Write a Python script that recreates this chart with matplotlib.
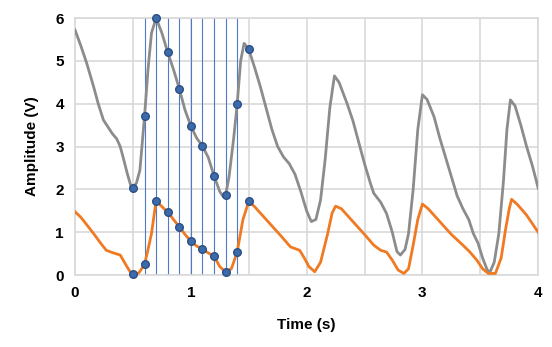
import matplotlib
matplotlib.use("Agg")
import matplotlib.pyplot as plt
import numpy as np

plt.rcParams['font.family'] = ['Liberation Sans', 'DejaVu Sans']

# ================= DATA =================
gray_t = [0.00, 0.05, 0.10, 0.16, 0.20, 0.245, 0.32, 0.36, 0.39, 0.42, 0.45, 0.48,
          0.50, 0.53, 0.56, 0.60, 0.63, 0.66, 0.70, 0.75, 0.80, 0.85, 0.90, 0.95,
          1.00, 1.05, 1.10, 1.15, 1.20, 1.25, 1.28, 1.30, 1.33, 1.37, 1.40, 1.43,
          1.46, 1.50, 1.55, 1.60, 1.65, 1.70, 1.75, 1.80, 1.85, 1.90, 1.95, 2.00,
          2.04, 2.08, 2.12, 2.16, 2.20, 2.24, 2.28, 2.35, 2.40, 2.45, 2.50, 2.55,
          2.58, 2.64, 2.69, 2.74, 2.78, 2.81, 2.85, 2.88, 2.92, 2.96, 3.00, 3.04,
          3.10, 3.15, 3.20, 3.25, 3.30, 3.35, 3.40, 3.44, 3.48, 3.52, 3.56, 3.585,
          3.62, 3.66, 3.70, 3.73, 3.76, 3.80, 3.85, 3.90, 3.95, 4.00]
gray_v = [5.72, 5.35, 4.95, 4.40, 4.00, 3.62, 3.31, 3.18, 3.00, 2.70, 2.38, 2.10,
          2.04, 2.15, 2.45, 3.71, 4.80, 5.65, 6.00, 5.65, 5.20, 4.80, 4.35, 3.85,
          3.48, 3.20, 3.01, 2.75, 2.32, 1.95, 1.83, 1.86, 2.30, 3.20, 3.99, 5.00,
          5.41, 5.27, 4.85, 4.40, 3.90, 3.40, 3.00, 2.76, 2.60, 2.35, 1.95, 1.50,
          1.25, 1.30, 1.75, 2.70, 3.90, 4.65, 4.50, 4.00, 3.60, 3.10, 2.60, 2.15,
          1.91, 1.70, 1.44, 1.00, 0.55, 0.47, 0.60, 0.97, 2.00, 3.40, 4.21, 4.10,
          3.70, 3.20, 2.75, 2.30, 1.85, 1.55, 1.30, 0.97, 0.75, 0.40, 0.12, 0.08,
          0.30, 0.97, 2.20, 3.40, 4.09, 3.95, 3.50, 3.00, 2.55, 2.03]

orange_t = [0.00, 0.05, 0.10, 0.16, 0.22, 0.27, 0.33, 0.39, 0.42, 0.45, 0.48, 0.50,
            0.55, 0.60, 0.63, 0.66, 0.70, 0.75, 0.80, 0.85, 0.90, 0.95, 1.00, 1.05,
            1.10, 1.15, 1.20, 1.25, 1.30, 1.35, 1.40, 1.45, 1.50, 1.55, 1.60, 1.70,
            1.80, 1.86, 1.94, 1.98, 2.02, 2.07, 2.12, 2.18, 2.22, 2.25, 2.30, 2.40,
            2.50, 2.58, 2.64, 2.69, 2.74, 2.79, 2.84, 2.88, 2.92, 2.96, 3.00, 3.05,
            3.15, 3.25, 3.35, 3.41, 3.47, 3.52, 3.57, 3.63, 3.68, 3.72, 3.75, 3.77,
            3.82, 3.90, 4.00]
orange_v = [1.48, 1.35, 1.18, 0.97, 0.75, 0.58, 0.52, 0.47, 0.33, 0.19, 0.06, 0.02,
            0.05, 0.25, 0.60, 0.97, 1.74, 1.60, 1.47, 1.30, 1.13, 0.95, 0.79, 0.68,
            0.61, 0.52, 0.44, 0.20, 0.07, 0.15, 0.54, 1.30, 1.72, 1.60, 1.45, 1.15,
            0.85, 0.66, 0.58, 0.40, 0.20, 0.08, 0.30, 0.95, 1.45, 1.61, 1.55, 1.25,
            0.95, 0.70, 0.58, 0.54, 0.35, 0.12, 0.04, 0.15, 0.70, 1.30, 1.66, 1.55,
            1.25, 0.95, 0.70, 0.54, 0.35, 0.15, 0.04, 0.04, 0.40, 1.10, 1.55, 1.77,
            1.65, 1.40, 1.00]

# sampled points (dots)
sample_t = [0.5, 0.6, 0.7, 0.8, 0.9, 1.0, 1.1, 1.2, 1.3, 1.4, 1.5]
sample_gray = [2.04, 3.71, 6.00, 5.20, 4.35, 3.48, 3.01, 2.32, 1.86, 3.99, 5.27]
sample_orange = [0.02, 0.25, 1.74, 1.47, 1.13, 0.79, 0.61, 0.44, 0.07, 0.54, 1.72]

# vertical marker lines
vline_t = [0.6, 0.7, 0.8, 0.9, 1.0, 1.1, 1.2, 1.3, 1.4]

# ================= FIGURE =================
fig = plt.figure(figsize=(5.52, 3.47), dpi=100)
ax = fig.add_axes([0.136, 0.207, 0.839, 0.741])

ax.set_xlim(0, 4)
ax.set_ylim(0, 6)
ax.set_xticks([0, 1, 2, 3, 4])
ax.set_xticks(np.arange(0, 4.01, 0.5), minor=True)
ax.set_yticks(range(0, 7))
ax.grid(True, which="both", color="#D9D9D9", linewidth=1.2)
ax.set_axisbelow(True)
for s in ax.spines.values():
    s.set_color("#D9D9D9")
    s.set_linewidth(1.2)
ax.tick_params(which="both", length=0, pad=8, labelsize=11)
for lab in ax.get_xticklabels() + ax.get_yticklabels():
    lab.set_fontweight("bold")

for t in vline_t:
    ax.axvline(t, color="#4F7BC6", linewidth=0.8, zorder=2)

ax.plot(gray_t, gray_v, color="#8C8C8C", linewidth=2, zorder=3)
ax.plot(orange_t, orange_v, color="#F07A22", linewidth=2, zorder=3)

ax.scatter(sample_t, sample_gray, s=30, color="#3D6BAA", edgecolor="#2A4F86",
           linewidth=1, zorder=4, clip_on=False)
ax.scatter(sample_t, sample_orange, s=30, color="#3D6BAA", edgecolor="#2A4F86",
           linewidth=1, zorder=4, clip_on=False)

ax.set_xlabel("Time (s)", fontsize=11, fontweight="bold", labelpad=13)
ax.set_ylabel("Amplitude (V)", fontsize=11, fontweight="bold", labelpad=12)

fig.savefig("out.png", dpi=100)
